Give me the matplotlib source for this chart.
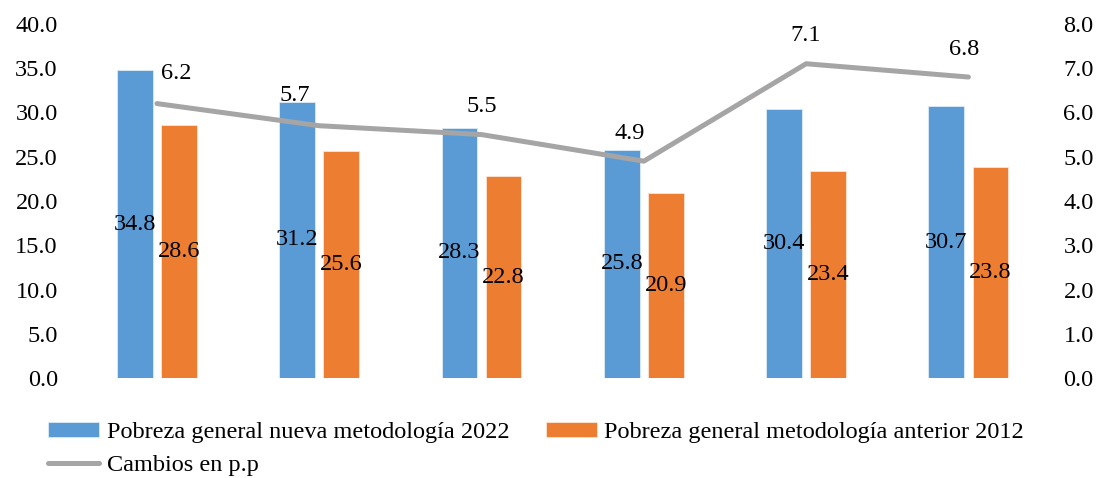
import matplotlib
matplotlib.use("Agg")
import matplotlib.pyplot as plt
import numpy as np

plt.rcParams['font.family'] = ['Liberation Serif', 'DejaVu Serif']

# Datos
nueva = [34.8, 31.2, 28.3, 25.8, 30.4, 30.7]
anterior = [28.6, 25.6, 22.8, 20.9, 23.4, 23.8]
cambios = [6.2, 5.7, 5.5, 4.9, 7.1, 6.8]
lbl_nueva = "Pobreza general nueva metodología 2022"
lbl_anterior = "Pobreza general metodología anterior 2012"
lbl_cambios = "Cambios en p.p"

# Desplazamiento de etiquetas de la linea (px)
offs = [(19, 30), (-24, 30), (0, 28), (-14, 28), (0, 28), (-4, 28)]

azul = "#5B9BD5"
naranja = "#ED7D31"
gris = "#A5A5A5"
fs = 17.5

x = np.arange(len(nueva))
w = 0.22
d = 0.136

fig = plt.figure(figsize=(10.99, 4.78), dpi=100)
ax = fig.add_axes([0.069, 0.209, 0.886, 0.741])
ax2 = ax.twinx()

b1 = ax.bar(x - d, nueva, w, color=azul, edgecolor="#DDEBF7", linewidth=0.6, label=lbl_nueva)
b2 = ax.bar(x + d, anterior, w, color=naranja, edgecolor="#FCE4D6", linewidth=0.6, label=lbl_anterior)
ax.bar_label(b1, fmt="%.1f", label_type="center", fontsize=fs)
ax.bar_label(b2, fmt="%.1f", label_type="center", fontsize=fs)

l, = ax2.plot(x, cambios, color=gris, lw=3.6, solid_capstyle="round", label=lbl_cambios)
for i, v in enumerate(cambios):
    ax2.annotate("%.1f" % v, (x[i], v), xytext=offs[i], textcoords="offset pixels",
                 ha="center", va="center", fontsize=fs)

ax.set_xlim(-0.5, len(nueva) - 0.5)
ax.set_ylim(0, 40)
ax2.set_ylim(0, 8)
ax.set_yticks(np.arange(0, 41, 5))
ax2.set_yticks(np.arange(0, 9, 1))
ax.set_yticklabels(["%.1f" % t for t in np.arange(0, 41, 5)])
ax2.set_yticklabels(["%.1f" % t for t in np.arange(0, 9, 1)])
ax.set_xticks([])
for a in (ax, ax2):
    for s in a.spines.values():
        s.set_visible(False)
    a.tick_params(length=0, labelsize=fs)
ax.tick_params(axis="y", pad=13)
ax2.tick_params(axis="y", pad=10)

fig.legend([b1, l, b2], [lbl_nueva, lbl_cambios, lbl_anterior], ncol=2,
           loc="upper left", bbox_to_anchor=(0.035, 0.138), frameon=False,
           fontsize=fs, handlelength=2.1, handleheight=0.6, columnspacing=1.5,
           handletextpad=0.3, labelspacing=0.5, borderaxespad=0)

fig.savefig("out.png", dpi=100)
